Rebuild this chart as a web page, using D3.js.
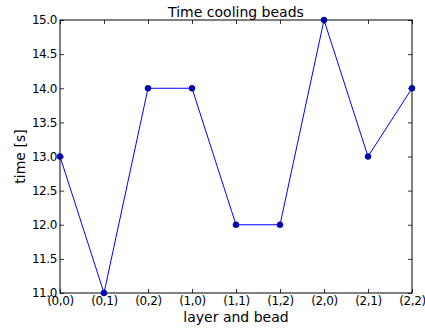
<!DOCTYPE html>
<html lang="en">
<head>
    <meta charset="UTF-8">
    <title>Time cooling beads</title>
    <script src="https://d3js.org/d3.v7.min.js"></script>
    <style>
        body { margin: 0; background: #fff; }
        text { font-family: 'DejaVu Sans', sans-serif; fill: #000; }
        .tick text { font-size: 12px; letter-spacing: -0.4px; }
        .domain { display: none; }
    </style>
</head>
<body>
<script>

    const width  = 425;
    const height = 328;
    const margin = {top: 20, right: 13, bottom: 35, left: 60};

    const beads = ['(0,0)', '(0,1)', '(0,2)', '(1,0)', '(1,1)', '(1,2)', '(2,0)', '(2,1)', '(2,2)'];
    const times = [13, 11, 14, 14, 12, 12, 15, 13, 14];
    const yTicks = [11.0, 11.5, 12.0, 12.5, 13.0, 13.5, 14.0, 14.5, 15.0];

    const w = width - margin.left - margin.right;
    const h = height - margin.top - margin.bottom;

    const x = d3.scalePoint().domain(beads).range([0, w]);
    const y = d3.scaleLinear().domain([11, 15]).range([h, 0]);

    const svg = d3.select("body")
            .append("svg")
            .attr("width", width)
            .attr("height", height);

    const g = svg.append("g")
            .attr("transform", "translate(" + [margin.left, margin.top] + ")");

    // matplotlib classic: ticks pointing inward on all sides
    g.append("g").attr("transform", "translate(0," + h + ")")
            .call(d3.axisBottom(x).tickSizeInner(-4).tickSizeOuter(0).tickPadding(3));
    g.append("g")
            .call(d3.axisTop(x).tickSizeInner(-4).tickSizeOuter(0).tickFormat(""));
    g.append("g")
            .call(d3.axisLeft(y).tickValues(yTicks).tickFormat(d3.format(".1f"))
                .tickSizeInner(-4).tickSizeOuter(0).tickPadding(3));
    g.append("g").attr("transform", "translate(" + w + ",0)")
            .call(d3.axisRight(y).tickValues(yTicks).tickSizeInner(-4).tickSizeOuter(0).tickFormat(""));

    g.selectAll(".tick line").attr("stroke", "#000").attr("stroke-width", 0.8);

    g.append("path")
            .datum(times)
            .attr("fill", "none")
            .attr("stroke", "#0000ff")
            .attr("stroke-width", 1)
            .attr("d", d3.line().x((d, i) => x(beads[i])).y(d => y(d)));

    g.append("rect")
            .attr("width", w)
            .attr("height", h)
            .attr("fill", "none")
            .attr("stroke", "#000")
            .attr("stroke-width", 1);

    g.selectAll("circle")
            .data(times)
            .enter()
            .append("circle")
            .attr("cx", (d, i) => x(beads[i]))
            .attr("cy", d => y(d))
            .attr("r", 3)
            .attr("fill", "#0000cc")
            .attr("stroke", "#000033")
            .attr("stroke-width", 0.5);

    svg.append("text")
            .text("Time cooling beads")
            .attr("x", margin.left + w / 2)
            .attr("y", 17)
            .attr("text-anchor", "middle")
            .style("font-size", "14px");

    svg.append("text")
            .text("layer and bead")
            .attr("x", margin.left + w / 2)
            .attr("y", 322)
            .attr("text-anchor", "middle")
            .style("font-size", "14px");

    svg.append("text")
            .text("time [s]")
            .attr("transform", "translate(" + [25, margin.top + h / 2] + ") rotate(-90)")
            .attr("text-anchor", "middle")
            .style("font-size", "14px");

</script>
</body>
</html>
